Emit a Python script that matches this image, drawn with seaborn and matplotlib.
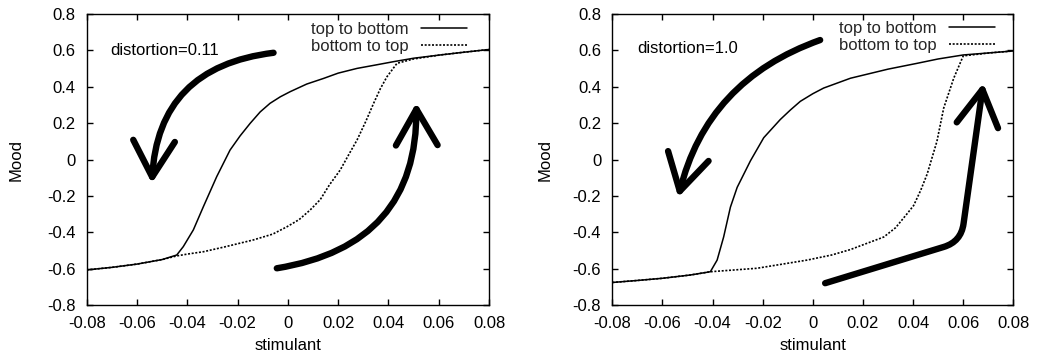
import matplotlib
matplotlib.use("Agg")
import matplotlib.pyplot as plt
import seaborn as sns

# ---------------- data ----------------
# distortion = 0.11
left_down_x = [0.08, 0.07, 0.0606, 0.05, 0.042, 0.035, 0.0275, 0.02, 0.0142, 0.0075, 0.0009,
               -0.003, -0.0071, -0.011, -0.015, -0.019, -0.023, -0.0283, -0.0336, -0.0376,
               -0.0416, -0.0442, -0.05, -0.06, -0.07, -0.08]
left_down_y = [0.605, 0.590, 0.575, 0.557, 0.538, 0.520, 0.501, 0.475, 0.446, 0.415, 0.373,
               0.345, 0.309, 0.262, 0.199, 0.130, 0.052, -0.094, -0.259, -0.387,
               -0.479, -0.525, -0.550, -0.575, -0.593, -0.607]
left_up_x = [-0.08, -0.07, -0.06, -0.05, -0.0442, -0.04, -0.0336, -0.025, -0.0137, -0.006,
             -0.0004, 0.0045, 0.0089, 0.0129, 0.0165, 0.0208, 0.0245, 0.0275, 0.031, 0.0341,
             0.0368, 0.0394, 0.0434, 0.05, 0.0606, 0.07, 0.08]
left_up_y = [-0.607, -0.593, -0.575, -0.550, -0.530, -0.520, -0.507, -0.480, -0.442, -0.410,
             -0.370, -0.330, -0.277, -0.220, -0.140, -0.058, 0.034, 0.107, 0.210, 0.309,
             0.390, 0.455, 0.529, 0.553, 0.575, 0.590, 0.605]

# distortion = 1.0
right_down_x = [0.08, 0.071, 0.060, 0.05, 0.0416, 0.03, 0.015, 0.0043, 0.0, -0.005, -0.009,
                -0.013, -0.0196, -0.0249, -0.0302, -0.0329, -0.0356, -0.0382, -0.0409, -0.0489,
                -0.06, -0.07, -0.08]
right_down_y = [0.597, 0.587, 0.575, 0.553, 0.529, 0.497, 0.447, 0.393, 0.362, 0.320, 0.272,
                0.220, 0.120, -0.007, -0.153, -0.262, -0.426, -0.553, -0.617, -0.635,
                -0.653, -0.665, -0.676]
right_up_x = [-0.08, -0.07, -0.06, -0.0489, -0.0409, -0.0223, -0.0023, 0.0075, 0.015, 0.0283,
              0.033, 0.0376, 0.0402, 0.043, 0.0456, 0.0495, 0.0522, 0.0562, 0.060, 0.071, 0.08]
right_up_y = [-0.676, -0.665, -0.653, -0.635, -0.617, -0.598, -0.553, -0.525, -0.495, -0.426,
              -0.375, -0.298, -0.253, -0.170, -0.080, 0.100, 0.283, 0.447, 0.570, 0.587, 0.597]

series_labels = ["top to bottom", "bottom to top"]
panel_titles = ["distortion=0.11", "distortion=1.0"]
x_ticks = [-0.08, -0.06, -0.04, -0.02, 0, 0.02, 0.04, 0.06, 0.08]
x_ticklabels = ["-0.08", "-0.06", "-0.04", "-0.02", "0", "0.02", "0.04", "0.06", "0.08"]
y_ticks = [-0.8, -0.6, -0.4, -0.2, 0, 0.2, 0.4, 0.6, 0.8]
y_ticklabels = ["-0.8", "-0.6", "-0.4", "-0.2", "0", "0.2", "0.4", "0.6", "0.8"]

# decorative hand-drawn arrows (tail, head) in data coords
left_arrow_tails = [(-0.0057, 0.587), (-0.0044, -0.598)]
left_arrow_heads = [(-0.0541, -0.131), (0.0511, 0.312)]
right_arrow_tails = [(0.0029, 0.657), (0.0049, -0.680)]
right_arrow_heads = [(-0.0537, -0.208), (0.068, 0.420)]

# ---------------- style ----------------
sns.set_theme(style="white")
plt.rcParams["font.family"] = ["Liberation Sans", "DejaVu Sans"]
plt.rcParams["axes.unicode_minus"] = False
FS = 12

fig = plt.figure(figsize=(10.4, 3.58), dpi=100)
ax_l = fig.add_axes([0.0834, 0.148, 0.3868, 0.8128])
ax_r = fig.add_axes([0.5888, 0.148, 0.3856, 0.8128])

panels = [
    (ax_l, left_down_x, left_down_y, left_up_x, left_up_y, panel_titles[0],
     (-0.0708, 0.597), left_arrow_tails, left_arrow_heads,
     ["arc3,rad=0.42", "arc3,rad=0.43"], (0.945, 0.973), -0.156),
    (ax_r, right_down_x, right_down_y, right_up_x, right_up_y, panel_titles[1],
     (-0.070, 0.613), right_arrow_tails, right_arrow_heads,
     ["arc3,rad=0.27", "angle,angleA=17,angleB=82,rad=18"], (0.955, 0.975), -0.148),
]

for (ax, dx, dy, ux, uy, title, tpos, tails, heads, cstyles, leg_anchor, ylab_x) in panels:
    sns.lineplot(x=dx, y=dy, ax=ax, sort=False, estimator=None, color="black",
                 linewidth=1.1, label=series_labels[0], zorder=3)
    sns.lineplot(x=ux, y=uy, ax=ax, sort=False, estimator=None, color="black",
                 linewidth=1.2, linestyle=(0, (1.2, 1.0)), label=series_labels[1], zorder=2)

    for tail, head, cs in zip(tails, heads, cstyles):
        ax.annotate("", xy=head, xytext=tail, xycoords="data", textcoords="data",
                    arrowprops=dict(arrowstyle="->,head_length=2.6,head_width=1.5",
                                    mutation_scale=10, lw=4.6, color="black",
                                    connectionstyle=cs, shrinkA=0, shrinkB=0,
                                    capstyle="round", joinstyle="round"),
                    zorder=4)

    ax.text(tpos[0], tpos[1], title, fontsize=FS, ha="left", va="center", color="black")

    ax.set_xlim(-0.08, 0.08)
    ax.set_ylim(-0.8, 0.8)
    ax.set_xticks(x_ticks)
    ax.set_xticklabels(x_ticklabels)
    ax.set_yticks(y_ticks)
    ax.set_yticklabels(y_ticklabels)
    ax.tick_params(axis="both", which="major", direction="in", top=True, right=True,
                   bottom=True, left=True, length=4.5, width=1.0, color="black",
                   labelsize=FS, labelcolor="black")
    ax.tick_params(axis="x", pad=8)
    ax.tick_params(axis="y", pad=8)
    for sp in ax.spines.values():
        sp.set_visible(True)
        sp.set_color("black")
        sp.set_linewidth(1.0)
    ax.set_xlabel("stimulant", fontsize=FS, color="black")
    ax.set_ylabel("Mood", fontsize=FS, color="black")
    ax.xaxis.set_label_coords(0.5, -0.115)
    ax.yaxis.set_label_coords(ylab_x, 0.5)
    ax.grid(False)

    ax.legend(loc="upper right", bbox_to_anchor=leg_anchor, frameon=False,
              markerfirst=False, fontsize=FS, handlelength=2.75, handletextpad=0.75,
              labelspacing=0.1, borderaxespad=0, borderpad=0)

fig.savefig("out.png", dpi=100, facecolor="white")
